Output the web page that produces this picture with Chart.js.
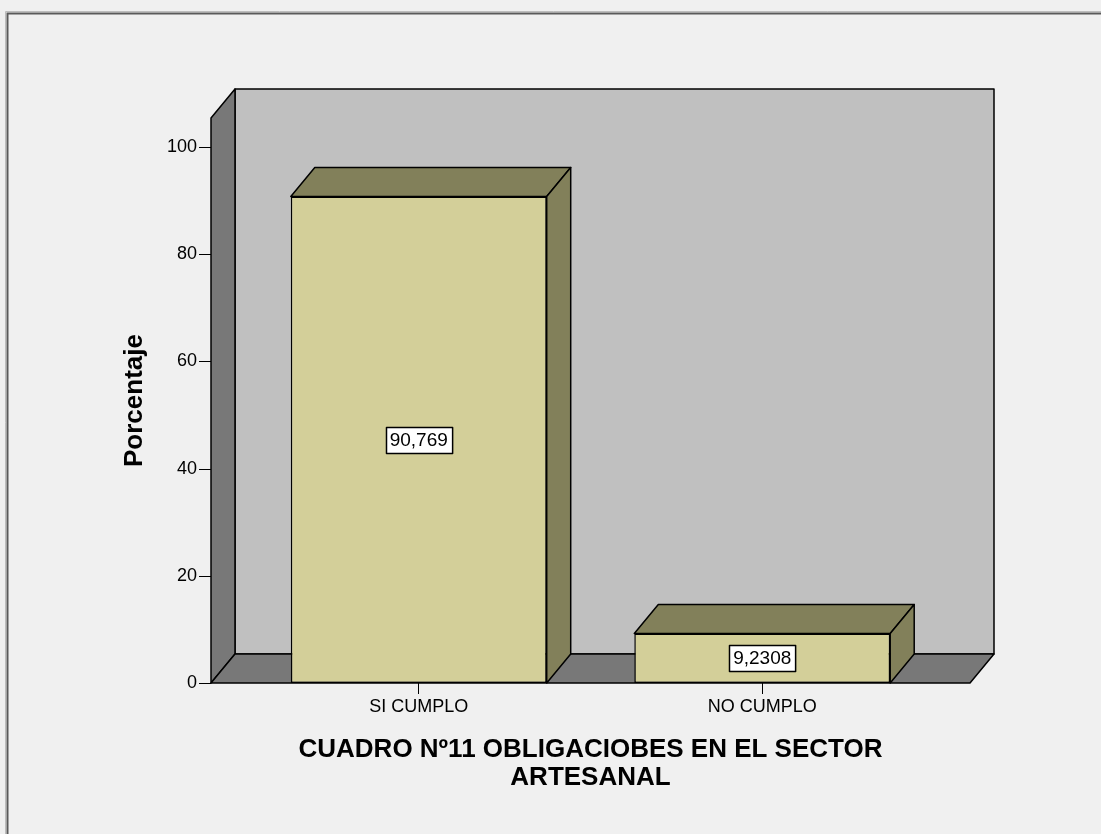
<!DOCTYPE html>
<html>
<head>
<meta charset="utf-8">
<script src="https://cdn.jsdelivr.net/npm/chart.js@4"></script>
<style>
html,body{margin:0;padding:0;background:#f0f0f0;}
canvas{display:block;}
</style>
</head>
<body>
<canvas id="c" width="1101" height="834"></canvas>
<script>
const categories = ['SI CUMPLO', 'NO CUMPLO'];
const percentValues = [90.769, 9.2308];
const yTickValues = [0, 20, 40, 60, 80, 100];
const xTitleLines = ['CUADRO Nº11 OBLIGACIOBES EN EL SECTOR', 'ARTESANAL'];
const yTitle = 'Porcentaje';

const FONT = "'Liberation Sans', Arial, sans-serif";
const DEPTH_X = 24, DEPTH_Y = -29, WALL_EXT = 36;
const BAR_FRONT = 'rgb(211,207,153)';
const BAR_SHADE = 'rgb(130,128,90)';
const WALL_BACK = '#c0c0c0';
const WALL_SIDE = '#787878';

function poly(ctx, pts, fill) {
  ctx.beginPath();
  ctx.moveTo(pts[0][0], pts[0][1]);
  for (let i = 1; i < pts.length; i++) ctx.lineTo(pts[i][0], pts[i][1]);
  ctx.closePath();
  ctx.fillStyle = fill;
  ctx.fill();
  ctx.stroke();
}

const frame3d = {
  id: 'frame3d',
  beforeDraw(chart) {
    const ctx = chart.ctx;
    ctx.save();
    ctx.fillStyle = '#f0f0f0';
    ctx.fillRect(0, 0, chart.width, chart.height);
    ctx.strokeStyle = '#bdbdbd';
    ctx.lineWidth = 1;
    ctx.beginPath();
    ctx.moveTo(5.5, chart.height); ctx.lineTo(5.5, 11.5); ctx.lineTo(chart.width, 11.5);
    ctx.stroke();
    ctx.strokeStyle = '#5a5a5a';
    ctx.lineWidth = 2;
    ctx.beginPath();
    ctx.moveTo(7.5, chart.height); ctx.lineTo(7.5, 13.5); ctx.lineTo(chart.width, 13.5);
    ctx.stroke();
    ctx.restore();
  },
  beforeDatasetsDraw(chart) {
    const ctx = chart.ctx;
    const y = chart.scales.y;
    const a = chart.chartArea;
    const xL = a.left - WALL_EXT, xR = a.right + WALL_EXT;
    const top = y.getPixelForValue(y.max), bot = y.getPixelForValue(0);
    ctx.save();
    ctx.strokeStyle = '#000';
    ctx.lineWidth = 1.5;
    ctx.lineJoin = 'round';
    poly(ctx, [[xL + DEPTH_X, top + DEPTH_Y], [xR + DEPTH_X, top + DEPTH_Y], [xR + DEPTH_X, bot + DEPTH_Y], [xL + DEPTH_X, bot + DEPTH_Y]], WALL_BACK);
    poly(ctx, [[xL, top], [xL + DEPTH_X, top + DEPTH_Y], [xL + DEPTH_X, bot + DEPTH_Y], [xL, bot]], WALL_SIDE);
    poly(ctx, [[xL, bot], [xR, bot], [xR + DEPTH_X, bot + DEPTH_Y], [xL + DEPTH_X, bot + DEPTH_Y]], WALL_SIDE);
    // y tick marks on the front edge of the side wall
    ctx.lineWidth = 1;
    y.ticks.forEach(t => {
      const py = Math.round(y.getPixelForValue(t.value)) + 0.5;
      ctx.beginPath();
      ctx.moveTo(xL - 12, py); ctx.lineTo(xL, py);
      ctx.stroke();
    });
    ctx.restore();
  },
  afterDatasetsDraw(chart) {
    const ctx = chart.ctx;
    const meta = chart.getDatasetMeta(0);
    ctx.save();
    ctx.strokeStyle = '#000';
    ctx.lineWidth = 1.5;
    ctx.lineJoin = 'round';
    meta.data.forEach((bar, i) => {
      const l = bar.x - bar.width / 2, r = bar.x + bar.width / 2;
      const t = bar.y, b = bar.base;
      poly(ctx, [[l, t], [l + DEPTH_X, t + DEPTH_Y], [r + DEPTH_X, t + DEPTH_Y], [r, t]], BAR_SHADE);
      poly(ctx, [[r, t], [r + DEPTH_X, t + DEPTH_Y], [r + DEPTH_X, b + DEPTH_Y], [r, b]], BAR_SHADE);
    });
    // value labels
    ctx.font = '19px ' + FONT;
    ctx.textAlign = 'center';
    ctx.textBaseline = 'middle';
    meta.data.forEach((bar, i) => {
      const txt = String(percentValues[i]).replace('.', ',');
      const w = ctx.measureText(txt).width + 8;
      const h = 26;
      const cy = (bar.y + bar.base) / 2;
      const bx = Math.round(bar.x - w / 2) + 0.5, by = Math.round(cy - h / 2) + 0.5;
      ctx.fillStyle = '#fff';
      ctx.fillRect(bx, by, w, h);
      ctx.lineWidth = 1.5;
      ctx.strokeRect(bx, by, w, h);
      ctx.fillStyle = '#000';
      ctx.fillText(txt, bar.x, cy + 1);
    });
    ctx.restore();
  }
};

new Chart(document.getElementById('c'), {
  type: 'bar',
  data: {
    labels: categories,
    datasets: [{
      data: percentValues,
      backgroundColor: BAR_FRONT,
      borderColor: '#000',
      borderWidth: 1.5,
      borderSkipped: false,
      barPercentage: 1,
      categoryPercentage: 0.745
    }]
  },
  options: {
    responsive: false,
    animation: false,
    devicePixelRatio: 1,
    layout: { padding: { top: 118, right: 167, left: 0, bottom: 0 } },
    plugins: { legend: { display: false }, tooltip: { enabled: false } },
    scales: {
      x: {
        afterFit(s) { s.height = 151; },
        grid: { display: true, drawOnChartArea: false, offset: false, tickLength: 11, color: '#000', lineWidth: 1 },
        border: { display: false },
        ticks: { color: '#000', font: { family: FONT, size: 18 }, padding: 2 },
        title: {
          display: true, text: xTitleLines, color: '#000',
          font: { family: FONT, size: 26, weight: 'bold', lineHeight: 1.08 },
          padding: { top: 0, bottom: 42 }
        }
      },
      y: {
        min: 0, max: 105.4,
        afterFit(s) { s.width = 247; },
        afterBuildTicks(s) { s.ticks = yTickValues.map(v => ({ value: v })); },
        grid: { display: false },
        border: { display: false },
        ticks: { color: '#000', font: { family: FONT, size: 18 }, padding: 42 },
        title: {
          display: true, text: yTitle, color: '#000',
          font: { family: FONT, size: 26, weight: 'bold', lineHeight: 1.2 },
          padding: { top: 119, bottom: 0 }
        }
      }
    }
  },
  plugins: [frame3d]
});
</script>
</body>
</html>
